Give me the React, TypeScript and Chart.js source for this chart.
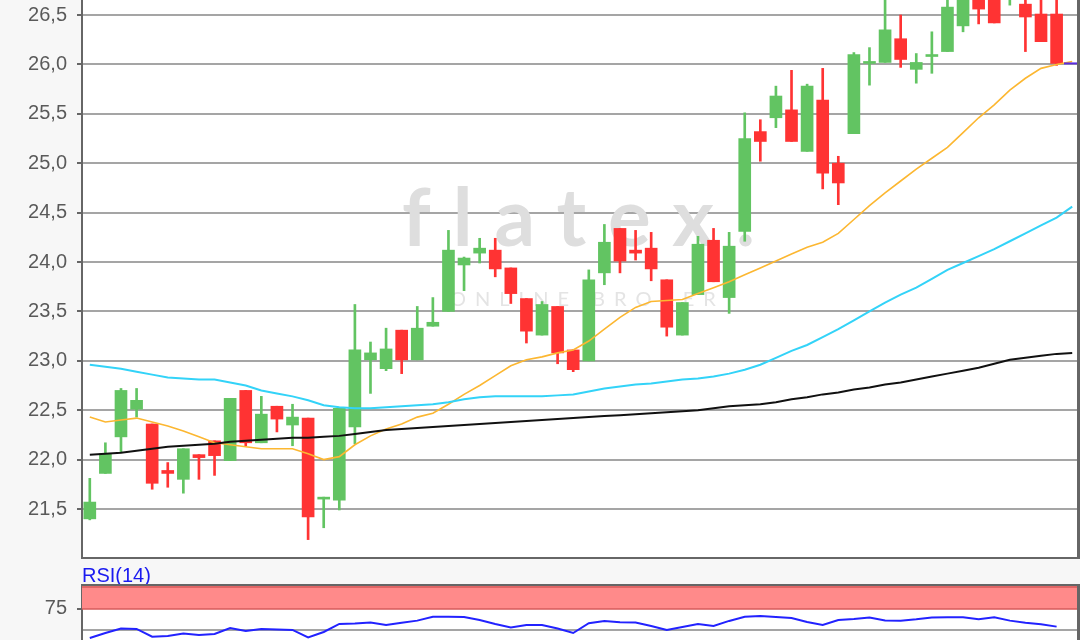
import React, { useEffect, useRef } from 'react';
import { Chart, registerables } from 'chart.js';
Chart.register(...registerables);

// ---- data ----
const OPEN = [21.40, 21.86, 22.23, 22.51, 22.36, 21.89, 21.80, 22.05, 22.19, 21.99, 22.70, 22.17, 22.54, 22.35, 22.42, 21.60, 21.59, 22.33, 23.01, 22.92, 23.31, 23.01, 23.35, 23.50, 23.97, 24.09, 24.12, 23.94, 23.63, 23.26, 23.55, 23.11, 23.00, 23.89, 24.34, 24.12, 24.14, 23.82, 23.26, 23.67, 24.22, 23.64, 24.31, 25.32, 25.46, 25.54, 25.12, 25.64, 25.00, 25.30, 26.01, 26.02, 26.26, 25.95, 26.08, 26.13, 26.39, 26.80, 26.75, 26.70, 26.61, 26.51, 26.51];
const HIGH = [21.81, 22.17, 22.72, 22.72, 22.36, 21.97, 22.11, 22.05, 22.19, 22.62, 22.70, 22.64, 22.54, 22.56, 22.42, 21.62, 22.52, 23.57, 23.19, 23.33, 23.31, 23.55, 23.64, 24.32, 24.05, 24.24, 24.24, 23.94, 23.63, 23.60, 23.55, 23.11, 23.92, 24.38, 24.34, 24.32, 24.30, 23.82, 23.59, 24.26, 24.34, 24.30, 25.51, 25.44, 25.78, 25.94, 25.80, 25.96, 25.07, 26.12, 26.17, 26.75, 26.50, 26.11, 26.33, 26.80, 26.85, 26.90, 26.85, 26.85, 26.75, 26.72, 26.70];
const LOW = [21.39, 21.86, 22.08, 22.43, 21.70, 21.72, 21.66, 21.80, 21.84, 21.99, 22.14, 22.17, 22.28, 22.14, 21.19, 21.31, 21.49, 22.16, 22.67, 22.90, 22.87, 23.01, 23.35, 23.50, 23.71, 23.99, 23.85, 23.58, 23.18, 23.26, 22.97, 22.89, 23.00, 23.77, 23.89, 24.02, 23.81, 23.25, 23.26, 23.67, 23.80, 23.48, 24.21, 25.02, 25.36, 25.22, 25.12, 24.74, 24.58, 25.30, 25.79, 26.02, 25.97, 25.81, 25.91, 26.13, 26.33, 26.41, 26.42, 26.60, 26.13, 26.23, 25.99];
const CLOSE = [21.57, 22.06, 22.70, 22.60, 21.76, 21.86, 22.11, 22.02, 22.04, 22.62, 22.17, 22.46, 22.41, 22.43, 21.42, 21.62, 22.52, 23.11, 23.08, 23.12, 23.01, 23.33, 23.39, 24.12, 24.04, 24.14, 23.93, 23.68, 23.30, 23.57, 23.08, 22.91, 23.82, 24.20, 24.01, 24.09, 23.93, 23.34, 23.59, 24.18, 23.80, 24.16, 25.25, 25.22, 25.68, 25.22, 25.78, 24.90, 24.80, 26.10, 26.03, 26.35, 26.05, 26.02, 26.10, 26.58, 26.72, 26.56, 26.42, 26.78, 26.48, 26.23, 26.01];

const MA_FAST = [22.43, 22.38, 22.40, 22.42, 22.38, 22.34, 22.29, 22.23, 22.17, 22.15, 22.13, 22.11, 22.11, 22.11, 22.06, 22.00, 22.03, 22.15, 22.24, 22.31, 22.36, 22.43, 22.47, 22.56, 22.66, 22.75, 22.85, 22.95, 23.01, 23.04, 23.08, 23.11, 23.20, 23.32, 23.44, 23.54, 23.60, 23.61, 23.62, 23.68, 23.74, 23.80, 23.87, 23.94, 24.01, 24.08, 24.15, 24.20, 24.29, 24.43, 24.57, 24.70, 24.82, 24.94, 25.05, 25.16, 25.31, 25.46, 25.59, 25.74, 25.86, 25.96, 26.00, 26.03];
const MA_MID = [22.96, 22.94, 22.92, 22.89, 22.86, 22.83, 22.82, 22.81, 22.81, 22.78, 22.75, 22.70, 22.67, 22.64, 22.60, 22.55, 22.53, 22.52, 22.52, 22.53, 22.54, 22.55, 22.56, 22.58, 22.61, 22.63, 22.64, 22.64, 22.64, 22.64, 22.65, 22.66, 22.69, 22.72, 22.74, 22.76, 22.77, 22.79, 22.81, 22.82, 22.84, 22.87, 22.91, 22.96, 23.03, 23.10, 23.16, 23.24, 23.32, 23.41, 23.50, 23.59, 23.67, 23.74, 23.83, 23.92, 23.99, 24.06, 24.13, 24.21, 24.29, 24.37, 24.45, 24.56];
const MA_SLOW = [22.05, 22.06, 22.07, 22.09, 22.11, 22.13, 22.14, 22.15, 22.16, 22.18, 22.19, 22.20, 22.21, 22.22, 22.22, 22.23, 22.24, 22.26, 22.28, 22.30, 22.31, 22.32, 22.33, 22.34, 22.35, 22.36, 22.37, 22.38, 22.39, 22.40, 22.41, 22.42, 22.43, 22.44, 22.45, 22.46, 22.47, 22.48, 22.49, 22.50, 22.52, 22.54, 22.55, 22.56, 22.58, 22.61, 22.63, 22.66, 22.68, 22.71, 22.73, 22.76, 22.78, 22.81, 22.84, 22.87, 22.90, 22.93, 22.97, 23.01, 23.03, 23.05, 23.07, 23.08];

const RSI = [43.5, 48.9, 53.8, 53.3, 44.9, 45.7, 48.4, 46.7, 47.8, 54.3, 51.1, 53.3, 52.7, 52.2, 44.0, 50.0, 58.7, 59.2, 60.3, 57.6, 60.1, 62.3, 66.6, 66.6, 66.3, 63.0, 58.7, 54.9, 57.6, 57.6, 53.8, 48.9, 59.5, 62.0, 60.5, 60.3, 56.5, 52.2, 55.4, 58.7, 56.5, 62.0, 66.6, 67.4, 66.3, 65.2, 60.9, 57.6, 63.0, 64.1, 65.8, 62.5, 62.3, 63.8, 65.8, 66.0, 66.0, 63.8, 66.0, 62.3, 60.1, 58.4, 55.8];

const LABELS = Array.from({ length: 64 }, (_, i) => String(i + 1));
const Y_TICKS = [21.5, 22.0, 22.5, 23.0, 23.5, 24.0, 24.5, 25.0, 25.5, 26.0, 26.5];
const RSI_TICKS = [52, 75];
const RSI_LABELED = [75];
const RSI_BAND = [75, 100];
const LAST_MARK = 26.01;

const GREEN = '#62c462';
const RED = '#ff3333';
const FONT = "'Liberation Sans', Arial, sans-serif";

const colors = OPEN.map((o, i) => (CLOSE[i] >= o ? GREEN : RED));
const wicks = OPEN.map((_, i) => [LOW[i], HIGH[i]]);
const bodies = OPEN.map((o, i) => [Math.min(o, CLOSE[i]), Math.max(o, CLOSE[i])]);

const noPad = (s: any) => {
  s.width = 82;
  s.paddingTop = 0;
  s.paddingBottom = 0;
};

const mainPlugin = {
  id: 'mainDeco',
  beforeDraw(chart: any) {
    const { ctx, chartArea: a, width, height } = chart;
    ctx.save();
    ctx.fillStyle = '#f7f7f7';
    ctx.fillRect(0, 0, width, height);
    ctx.fillStyle = '#ffffff';
    ctx.fillRect(a.left, a.top, 1078 - a.left, a.bottom - a.top);
    ctx.restore();
  },
  beforeDatasetsDraw(chart: any) {
    const { ctx } = chart;
    ctx.save();
    ctx.fillStyle = '#dedede';
    ctx.font = "bold 80px Lato, 'Open Sans', sans-serif";
    (ctx as any).letterSpacing = '22px';
    ctx.textBaseline = 'alphabetic';
    ctx.fillText('flatex.', 402, 246);
    ctx.fillStyle = '#e4e4e4';
    ctx.font = "20px Lato, 'Open Sans', sans-serif";
    (ctx as any).letterSpacing = '9px';
    ctx.fillText('ONLINE BROKER', 450, 306);
    ctx.restore();
  },
  afterDraw(chart: any) {
    const { ctx, chartArea: a } = chart;
    const y = chart.scales.y;
    ctx.save();
    ctx.strokeStyle = '#666666';
    ctx.lineWidth = 2;
    ctx.beginPath();
    ctx.moveTo(a.left - 1, a.bottom + 1);
    ctx.lineTo(1080, a.bottom + 1);
    ctx.stroke();
    ctx.lineWidth = 3;
    ctx.beginPath();
    ctx.moveTo(1078.5, a.top);
    ctx.lineTo(1078.5, a.bottom + 2);
    ctx.stroke();
    const py = y.getPixelForValue(LAST_MARK);
    ctx.strokeStyle = '#5b2be0';
    ctx.lineWidth = 2;
    ctx.beginPath();
    ctx.moveTo(1064, py);
    ctx.lineTo(1077, py);
    ctx.stroke();
    ctx.restore();
  },
};

const rsiPlugin = {
  id: 'rsiDeco',
  beforeDraw(chart: any) {
    const { ctx, chartArea: a, width, height } = chart;
    ctx.save();
    ctx.fillStyle = '#f7f7f7';
    ctx.fillRect(0, 0, width, height);
    ctx.fillStyle = '#ffffff';
    ctx.fillRect(a.left, a.top, 1078 - a.left, a.bottom - a.top);
    ctx.fillStyle = '#1a1af0';
    ctx.font = `20px ${FONT}`;
    ctx.textBaseline = 'alphabetic';
    ctx.fillText('RSI(14)', a.left, a.top - 3);
    ctx.restore();
  },
  beforeDatasetsDraw(chart: any) {
    const { ctx, chartArea: a } = chart;
    const y = chart.scales.y;
    const y0 = y.getPixelForValue(RSI_BAND[0]);
    const y1 = y.getPixelForValue(RSI_BAND[1]);
    ctx.save();
    ctx.fillStyle = '#ff8a8a';
    ctx.fillRect(a.left, y1, 1078 - a.left, y0 - y1);
    ctx.strokeStyle = '#d65a5a';
    ctx.lineWidth = 1.5;
    ctx.beginPath();
    ctx.moveTo(a.left, y1 + 1);
    ctx.lineTo(1078, y1 + 1);
    ctx.moveTo(a.left, y0);
    ctx.lineTo(1078, y0);
    ctx.stroke();
    ctx.restore();
  },
  afterDraw(chart: any) {
    const { ctx, chartArea: a } = chart;
    ctx.save();
    ctx.strokeStyle = '#666666';
    ctx.lineWidth = 2;
    ctx.beginPath();
    ctx.moveTo(a.left - 1, a.top);
    ctx.lineTo(1080, a.top);
    ctx.stroke();
    ctx.lineWidth = 3;
    ctx.beginPath();
    ctx.moveTo(1078.5, a.top);
    ctx.lineTo(1078.5, a.bottom);
    ctx.stroke();
    ctx.restore();
  },
};

export default function App() {
  const mainRef = useRef<HTMLCanvasElement>(null);
  const rsiRef = useRef<HTMLCanvasElement>(null);

  useEffect(() => {
    const c1 = new Chart(mainRef.current as HTMLCanvasElement, {
      type: 'bar',
      data: {
        labels: LABELS,
        datasets: [
          { type: 'line', label: 'MA slow', data: MA_SLOW, borderColor: '#111111', borderWidth: 2, pointRadius: 0, order: 0 } as any,
          { type: 'line', label: 'MA mid', data: MA_MID, borderColor: '#33d3f8', borderWidth: 2, pointRadius: 0, order: 0 } as any,
          { type: 'line', label: 'MA fast', data: MA_FAST, borderColor: '#fcb731', borderWidth: 1.6, pointRadius: 0, order: 0 } as any,
          { type: 'bar', label: 'Wick', data: wicks, backgroundColor: colors, barThickness: 2, grouped: false, borderWidth: 0, borderSkipped: false, order: 2 } as any,
          { type: 'bar', label: 'Body', data: bodies, backgroundColor: colors, barThickness: 12, grouped: false, borderWidth: 0, borderSkipped: false, order: 1 } as any,
        ],
      },
      options: {
        responsive: false,
        animation: false,
        layout: { padding: { top: 0, right: 0, bottom: 2, left: 0 } },
        plugins: { legend: { display: false }, tooltip: { enabled: false } },
        scales: {
          x: { display: false, offset: true, grid: { display: false } },
          y: {
            min: 21.014,
            max: 26.652,
            afterFit: noPad,
            afterBuildTicks: (s: any) => { s.ticks = Y_TICKS.map((v) => ({ value: v })); },
            ticks: {
              callback: (v: any) => Number(v).toFixed(1).replace('.', ','),
              font: { family: FONT, size: 20 },
              color: '#5a5a5a',
              padding: 10,
            },
            grid: { color: '#a5a5a5', lineWidth: 2, tickLength: 5, tickColor: '#666666' },
            border: { color: '#666666', width: 2 },
          },
        },
      } as any,
      plugins: [mainPlugin],
    });

    const c2 = new Chart(rsiRef.current as HTMLCanvasElement, {
      type: 'line',
      data: {
        labels: LABELS,
        datasets: [
          { label: 'RSI(14)', data: RSI, borderColor: '#2222ff', borderWidth: 2, pointRadius: 0 },
        ],
      },
      options: {
        responsive: false,
        animation: false,
        layout: { padding: { top: 25, right: 0, bottom: 2, left: 0 } },
        plugins: { legend: { display: false }, tooltip: { enabled: false } },
        scales: {
          x: { display: false, offset: true, grid: { display: false } },
          y: {
            min: 0,
            max: 101,
            afterFit: noPad,
            afterBuildTicks: (s: any) => { s.ticks = RSI_TICKS.map((v) => ({ value: v })); },
            ticks: {
              callback: (v: any) => (RSI_LABELED.includes(Number(v)) ? String(v) : ''),
              font: { family: FONT, size: 20 },
              color: '#5a5a5a',
              padding: 10,
            },
            grid: {
              color: (c: any) => (c.tick && RSI_LABELED.includes(c.tick.value) ? 'rgba(0,0,0,0)' : '#a5a5a5'),
              lineWidth: 2,
              tickLength: 5,
              tickColor: (c: any) => (c.tick && RSI_LABELED.includes(c.tick.value) ? '#666666' : 'rgba(0,0,0,0)'),
            },
            border: { color: '#666666', width: 2 },
          },
        },
      } as any,
      plugins: [rsiPlugin],
    });

    return () => {
      c1.destroy();
      c2.destroy();
    };
  }, []);

  return (
    <div style={{ position: 'fixed', left: 0, top: 0, width: 1080, height: 640, overflow: 'hidden', background: '#f7f7f7' }}>
      <canvas ref={mainRef} width={1080} height={559} style={{ position: 'absolute', left: 0, top: 0 }} />
      <canvas ref={rsiRef} width={1080} height={120} style={{ position: 'absolute', left: 0, top: 560 }} />
    </div>
  );
}
